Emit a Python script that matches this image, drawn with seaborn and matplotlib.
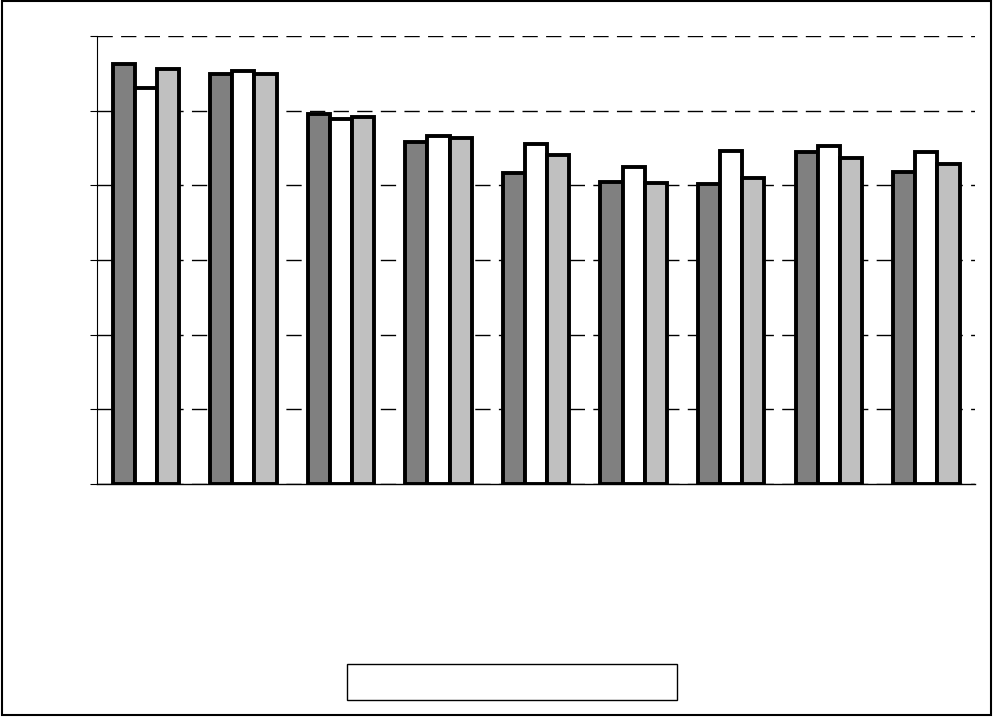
import matplotlib
matplotlib.use("Agg")
import matplotlib.pyplot as plt
import seaborn as sns
import pandas as pd
from matplotlib.patches import Rectangle

categories = ["1", "2", "3", "4", "5", "6", "7", "8", "9"]
series_names = ["A", "B", "C"]
series_a = [5.63, 5.50, 4.96, 4.58, 4.17, 4.05, 4.02, 4.45, 4.18]
series_b = [5.30, 5.54, 4.89, 4.66, 4.55, 4.25, 4.46, 4.53, 4.45]
series_c = [5.56, 5.50, 4.92, 4.63, 4.41, 4.03, 4.10, 4.37, 4.29]
y_ticks = [0, 1, 2, 3, 4, 5, 6]

rows = []
for name, vals in zip(series_names, [series_a, series_b, series_c]):
    for c, v in zip(categories, vals):
        rows.append({"cat": c, "series": name, "value": v})
df = pd.DataFrame(rows)

sns.set_style("white")
plt.rcParams["lines.scale_dashes"] = False

fig = plt.figure(figsize=(9.94, 7.17), dpi=100)
ax = fig.add_axes([0.0976, 0.325, 0.8834, 0.6245])

palette = {"A": "#808080", "B": "#ffffff", "C": "#c0c0c0"}
sns.barplot(data=df, x="cat", y="value", hue="series", order=categories,
            hue_order=series_names, palette=palette, width=0.68, gap=0,
            edgecolor="black", linewidth=2.8, saturation=1, legend=False, ax=ax)

ax.set_ylim(0, 6)
ax.set_xlim(-0.5, len(categories) - 0.5)
ax.set_yticks(y_ticks)
ax.set_yticklabels([])
ax.set_xticks([])
ax.set_xlabel("")
ax.set_ylabel("")
ax.yaxis.grid(True, color="black", linewidth=1.0, linestyle=(0, (11, 6)))
ax.set_axisbelow(True)
ax.tick_params(axis="y", direction="out", length=5, width=0.8, color="black", left=True)
for s in ["top", "right"]:
    ax.spines[s].set_visible(False)
ax.spines["left"].set_color("black")
ax.spines["left"].set_linewidth(0.8)
ax.spines["bottom"].set_color("black")
ax.spines["bottom"].set_linewidth(1.0)

# legend frame (no legible text in the reference)
fig.patches.append(Rectangle((0.349, 0.0237), 0.332, 0.0502, transform=fig.transFigure,
                             fill=False, edgecolor="black", linewidth=1.0))
# outer chart border
fig.patches.append(Rectangle((0.002, 0.003), 0.995, 0.995, transform=fig.transFigure,
                             fill=False, edgecolor="black", linewidth=1.5))

fig.savefig("out.png", dpi=100)
